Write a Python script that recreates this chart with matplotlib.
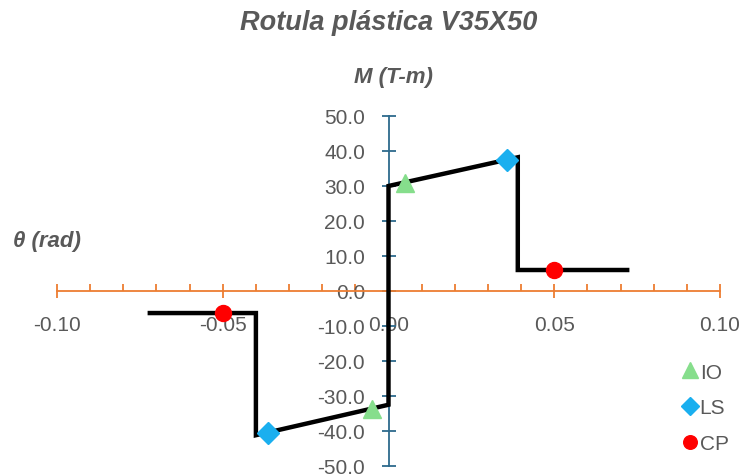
import matplotlib
matplotlib.use("Agg")
import matplotlib.pyplot as plt
from matplotlib.ticker import MultipleLocator, FormatStrFormatter

# Data
curve_x = [-0.072, -0.040, -0.040, 0.0, 0.0, 0.039, 0.039, 0.072]
curve_y = [-6.3, -6.3, -41.2, -32.5, 30.0, 38.2, 6.0, 6.0]
io_x = [0.005, -0.005]
io_y = [31.0, -33.8]
ls_x = [0.0357, -0.0362]
ls_y = [37.5, -40.6]
cp_x = [0.050, -0.050]
cp_y = [6.0, -6.3]
title = "Rotula plástica V35X50"
ylabel = "M (T-m)"
xlabel = "θ (rad)"

gray = "#595959"
orange = "#ED7D31"
blue = "#2D6A8C"
narrow = ["Liberation Sans Narrow", "Liberation Sans", "DejaVu Sans"]

plt.rcParams["font.family"] = ["Liberation Sans", "DejaVu Sans"]

fig = plt.figure(figsize=(7.44, 4.77), dpi=100)
ax = fig.add_axes([57/744, 1-467/477, (720-57)/744, (467-117)/477])
ax.set_xlim(-0.10, 0.10)
ax.set_ylim(-50, 50)

ax.plot(curve_x, curve_y, color="black", lw=3.2, solid_joinstyle="miter", zorder=3)
ax.plot(io_x, io_y, ls="none", marker="^", ms=13, color="#86DE8C", label="IO", zorder=4)
ax.plot(ls_x, ls_y, ls="none", marker="D", ms=11, color="#1AAFEF", label="LS", zorder=4)
ax.plot(cp_x, cp_y, ls="none", marker="o", ms=11.5, color="#FF0000", label="CP", zorder=4)

for s in ["top", "right"]:
    ax.spines[s].set_visible(False)
ax.spines["left"].set_position(("data", 0))
ax.spines["bottom"].set_position(("data", 0))
ax.spines["bottom"].set_color(orange)
ax.spines["bottom"].set_linewidth(1.3)
ax.spines["left"].set_color(blue)
ax.spines["left"].set_linewidth(1.3)

ax.xaxis.set_major_locator(MultipleLocator(0.05))
ax.xaxis.set_minor_locator(MultipleLocator(0.01))
ax.xaxis.set_major_formatter(FormatStrFormatter("%.2f"))
ax.yaxis.set_major_locator(MultipleLocator(10))
ax.yaxis.set_major_formatter(FormatStrFormatter("%.1f"))

ax.tick_params(axis="x", which="major", direction="inout", length=10, width=1.3,
               color=orange, pad=12, labelsize=15, labelcolor=gray)
ax.tick_params(axis="x", which="minor", direction="in", length=5, width=1.3, color=orange)
ax.tick_params(axis="y", which="major", direction="inout", length=10, width=1.3,
               color=blue, pad=12, labelsize=15, labelcolor=gray)

fig.text(389/744, 1-23/477, title, ha="center", va="center", fontsize=19.5,
         fontweight="bold", fontstyle="italic", color=gray, family=narrow)
fig.text(393/744, 1-78/477, ylabel, ha="center", va="center", fontsize=16,
         fontweight="bold", fontstyle="italic", color=gray, family=narrow)
fig.text(47/744, 1-241/477, xlabel, ha="center", va="center", fontsize=16,
         fontweight="bold", fontstyle="italic", color=gray, family=narrow)

leg = ax.legend(loc="upper left", bbox_to_anchor=(659/744, 1-345/477),
                bbox_transform=fig.transFigure, frameon=False, fontsize=15,
                handletextpad=-0.15, labelspacing=0.8, handlelength=1.2,
                markerscale=0.85)
for t in leg.get_texts():
    t.set_color(gray)

fig.savefig("out.png", dpi=100)
